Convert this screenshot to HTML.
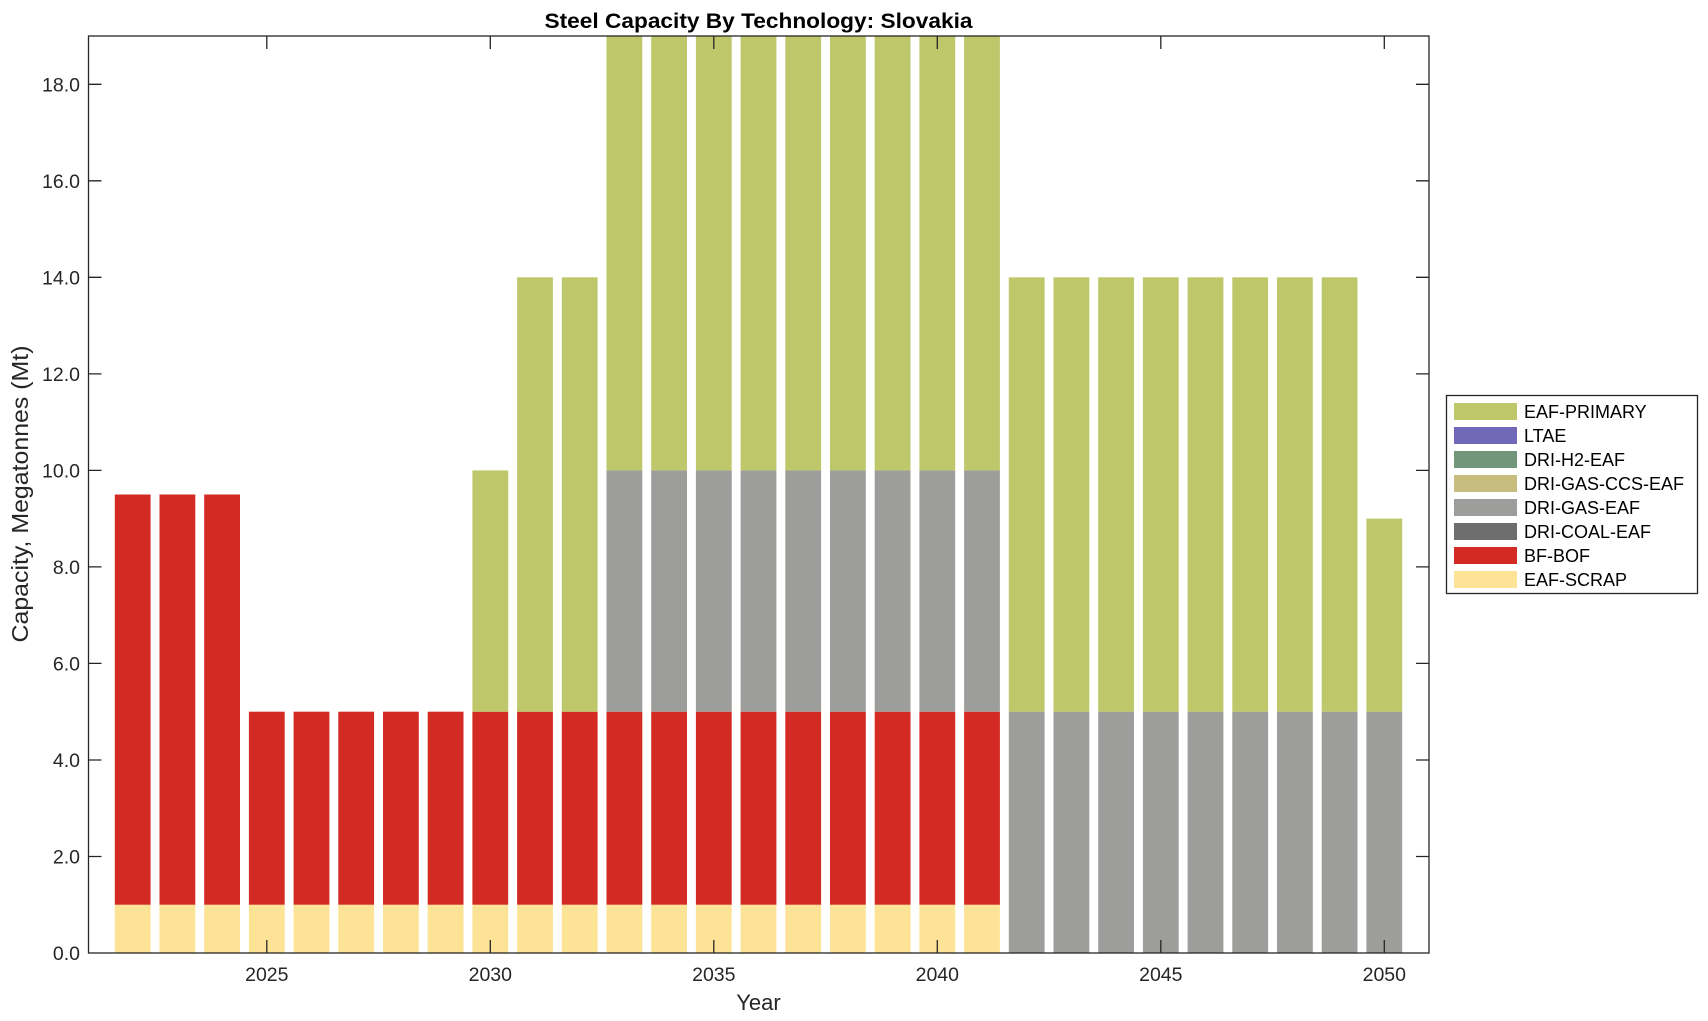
<!DOCTYPE html>
<html><head><meta charset="utf-8"><style>html,body{margin:0;padding:0;background:#fff}svg{display:block}</style></head><body>
<svg width="1708" height="1021" viewBox="0 0 1708 1021" xmlns="http://www.w3.org/2000/svg" font-family="Liberation Sans, Arial, sans-serif" fill="#262626">
<defs>
<g id="A"><rect x="0" y="904.7" width="35.8" height="48.3" fill="#fde395"/><rect x="0" y="494.5" width="35.8" height="410.2" fill="#d42a24"/></g>
<g id="B"><rect x="0" y="904.7" width="35.8" height="48.3" fill="#fde395"/><rect x="0" y="711.7" width="35.8" height="193" fill="#d42a24"/></g>
<g id="C"><use href="#B"/><rect x="0" y="470.4" width="35.8" height="241.3" fill="#bec86b"/></g>
<g id="D"><use href="#B"/><rect x="0" y="277.3" width="35.8" height="434.4" fill="#bec86b"/></g>
<g id="E"><use href="#B"/><rect x="0" y="470.4" width="35.8" height="241.3" fill="#9d9d9b"/><rect x="0" y="36" width="35.8" height="434.4" fill="#bec86b"/></g>
<g id="F"><rect x="0" y="711.7" width="35.8" height="241.3" fill="#9d9d9b"/><rect x="0" y="277.3" width="35.8" height="434.4" fill="#bec86b"/></g>
<g id="G"><rect x="0" y="711.7" width="35.8" height="241.3" fill="#9d9d9b"/><rect x="0" y="518.6" width="35.8" height="193.1" fill="#bec86b"/></g>
</defs>
<use href="#A" x="114.8"/><use href="#A" x="159.5"/><use href="#A" x="204.2"/>
<use href="#B" x="248.9"/><use href="#B" x="293.6"/><use href="#B" x="338.3"/><use href="#B" x="383.0"/><use href="#B" x="427.7"/>
<use href="#C" x="472.4"/>
<use href="#D" x="517.1"/><use href="#D" x="561.8"/>
<use href="#E" x="606.5"/><use href="#E" x="651.2"/><use href="#E" x="695.9"/><use href="#E" x="740.6"/><use href="#E" x="785.3"/><use href="#E" x="830.0"/><use href="#E" x="874.7"/><use href="#E" x="919.4"/><use href="#E" x="964.1"/>
<use href="#F" x="1008.8"/><use href="#F" x="1053.5"/><use href="#F" x="1098.2"/><use href="#F" x="1142.9"/><use href="#F" x="1187.6"/><use href="#F" x="1232.3"/><use href="#F" x="1277.0"/><use href="#F" x="1321.7"/>
<use href="#G" x="1366.4"/>
<g stroke="#262626" stroke-width="1.3" fill="none">
<rect x="88.5" y="36" width="1340.5" height="917"/>
<path d="M266.8 953v-13M490.3 953v-13M713.8 953v-13M937.3 953v-13M1160.8 953v-13M1384.3 953v-13M266.8 36v13M490.3 36v13M713.8 36v13M937.3 36v13M1160.8 36v13M1384.3 36v13"/>
<path d="M88.5 856.5h13M88.5 760h13M88.5 663.4h13M88.5 566.9h13M88.5 470.4h13M88.5 373.9h13M88.5 277.3h13M88.5 180.8h13M88.5 84.3h13M1429 856.5h-13M1429 760h-13M1429 663.4h-13M1429 566.9h-13M1429 470.4h-13M1429 373.9h-13M1429 277.3h-13M1429 180.8h-13M1429 84.3h-13"/>
</g>
<g font-size="19.5" text-anchor="end">
<text x="80" y="960">0.0</text><text x="80" y="863.5">2.0</text><text x="80" y="767">4.0</text><text x="80" y="670.4">6.0</text><text x="80" y="573.9">8.0</text><text x="80" y="477.4">10.0</text><text x="80" y="380.9">12.0</text><text x="80" y="284.3">14.0</text><text x="80" y="187.8">16.0</text><text x="80" y="91.3">18.0</text>
</g>
<g font-size="19.5" text-anchor="middle">
<text x="266.8" y="981">2025</text><text x="490.3" y="981">2030</text><text x="713.8" y="981">2035</text><text x="937.3" y="981">2040</text><text x="1160.8" y="981">2045</text><text x="1384.3" y="981">2050</text>
</g>
<text x="758.5" y="1010" font-size="22" text-anchor="middle">Year</text>
<text transform="translate(28 494) rotate(-90)" font-size="23" text-anchor="middle" textLength="297" lengthAdjust="spacingAndGlyphs">Capacity, Megatonnes (Mt)</text>
<text x="758.5" y="28" font-size="21" font-weight="bold" text-anchor="middle" fill="#000" textLength="428" lengthAdjust="spacingAndGlyphs">Steel Capacity By Technology: Slovakia</text>
<rect x="1446.5" y="395.5" width="251" height="198" fill="#fff" stroke="#262626" stroke-width="1.3"/>
<g>
<rect x="1454" y="403" width="63" height="17" fill="#bec86b"/>
<rect x="1454" y="427" width="63" height="17" fill="#7268b8"/>
<rect x="1454" y="451" width="63" height="17" fill="#71967a"/>
<rect x="1454" y="475" width="63" height="17" fill="#c7bd7e"/>
<rect x="1454" y="499" width="63" height="17" fill="#9d9d9b"/>
<rect x="1454" y="523" width="63" height="17" fill="#6e6e6e"/>
<rect x="1454" y="547" width="63" height="17" fill="#d42a24"/>
<rect x="1454" y="571" width="63" height="17" fill="#fde395"/>
</g>
<g font-size="18" fill="#000">
<text x="1524" y="418">EAF-PRIMARY</text>
<text x="1524" y="442">LTAE</text>
<text x="1524" y="466">DRI-H2-EAF</text>
<text x="1524" y="490">DRI-GAS-CCS-EAF</text>
<text x="1524" y="514">DRI-GAS-EAF</text>
<text x="1524" y="538">DRI-COAL-EAF</text>
<text x="1524" y="562">BF-BOF</text>
<text x="1524" y="586">EAF-SCRAP</text>
</g>
</svg>
</body></html>
